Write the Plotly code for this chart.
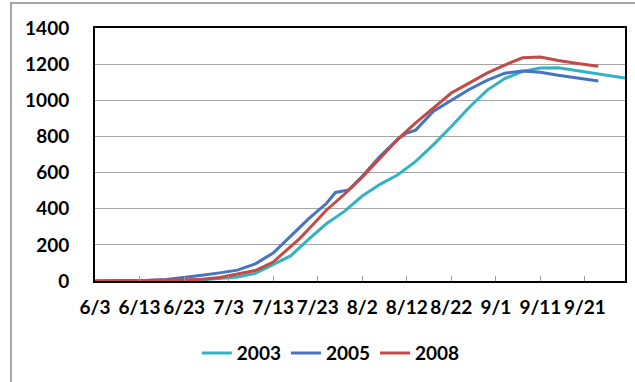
import plotly.graph_objects as go
import pandas as pd

# days since 6/3 at which values were read
days_2003 = [0, 4, 8, 12, 16, 20, 24, 28, 32, 36, 40, 44, 48, 52, 56, 60, 64, 68, 72, 76, 80, 84, 88, 92, 96, 100, 104, 108, 112, 116, 119]
vals_2003 = [0, 0, 0, 0, 2, 4, 6, 12, 22, 42, 90, 140, 232, 318, 385, 470, 535, 588, 662, 755, 855, 960, 1055, 1120, 1160, 1178, 1180, 1165, 1152, 1135, 1123]

days_2005 = [0, 4, 8, 12, 16, 20, 24, 28, 32, 36, 40, 44, 48, 52, 54, 57, 60, 64, 68, 70, 72, 76, 80, 84, 88, 92, 96, 100, 104, 108, 113]
vals_2005 = [0, 0, 2, 4, 8, 18, 32, 45, 60, 95, 155, 250, 345, 430, 490, 504, 580, 690, 785, 819, 835, 940, 1000, 1060, 1110, 1150, 1162, 1155, 1138, 1125, 1107]

days_2008 = [0, 4, 8, 12, 16, 20, 24, 28, 32, 36, 40, 44, 46, 48, 52, 56, 60, 64, 68, 72, 76, 80, 84, 88, 92, 96, 100, 104, 108, 113]
vals_2008 = [0, 0, 0, 2, 4, 6, 10, 20, 38, 58, 105, 190, 236, 288, 393, 480, 575, 680, 785, 875, 955, 1040, 1095, 1150, 1195, 1235, 1240, 1220, 1205, 1188]

tick_labels = ["6/3", "6/13", "6/23", "7/3", "7/13", "7/23", "8/2", "8/12", "8/22", "9/1", "9/11", "9/21"]
tick_days = [0, 10, 20, 30, 40, 50, 60, 70, 80, 90, 100, 110]

start = pd.Timestamp("2003-06-03")
def to_dates(days):
    return [start + pd.Timedelta(days=d) for d in days]

series = [
    ("2003", days_2003, vals_2003, "#33B2C2"),
    ("2005", days_2005, vals_2005, "#4673C2"),
    ("2008", days_2008, vals_2008, "#C44A48"),
]

fig = go.Figure()
for name, d, v, c in series:
    fig.add_trace(go.Scatter(x=to_dates(d), y=v, mode="lines", name=name,
                             line=dict(color=c, width=3)))

font_family = "Lato, 'Open Sans', sans-serif"
fig.update_layout(
    width=635, height=382,
    margin=dict(l=95, r=10, t=28, b=101, autoexpand=False),
    paper_bgcolor="white", plot_bgcolor="white",
    font=dict(family=font_family, size=19, color="black"),
    showlegend=True,
    legend=dict(orientation="h", x=0.445, xanchor="center", y=-0.21, yanchor="top",
                font=dict(size=19, family=font_family, weight="bold"),
                itemwidth=30, tracegroupgap=0),
    xaxis=dict(
        type="date", automargin=False,
        range=[start, start + pd.Timedelta(days=119)],
        tickvals=to_dates(tick_days), ticktext=tick_labels,
        ticks="inside", ticklen=5, tickcolor="#999999", tickwidth=1,
        showgrid=False, showline=True, linecolor="black", linewidth=2, mirror=True,
        tickfont=dict(size=19, family=font_family, weight="bold"),
        ticklabelstandoff=8,
    ),
    yaxis=dict(
        range=[0, 1400], dtick=200, automargin=False,
        showgrid=True, gridcolor="#A6A6A6", gridwidth=1,
        showline=True, linecolor="black", linewidth=2, mirror=True,
        ticks="", zeroline=False,
        tickfont=dict(size=19, family=font_family, weight="bold"),
        ticklabelstandoff=20,
    ),
    shapes=[dict(type="rect", xref="paper", yref="paper",
                 x0=(11 - 95) / 530, x1=(700 - 95) / 530,
                 y0=(281 - 420) / 253, y1=(281 - 3) / 253,
                 line=dict(color="#888888", width=1.5), layer="below")],
)

fig.write_html("out.html", config={"displayModeBar": False},
               post_script="document.body.style.margin='0';document.body.style.overflow='hidden';")
